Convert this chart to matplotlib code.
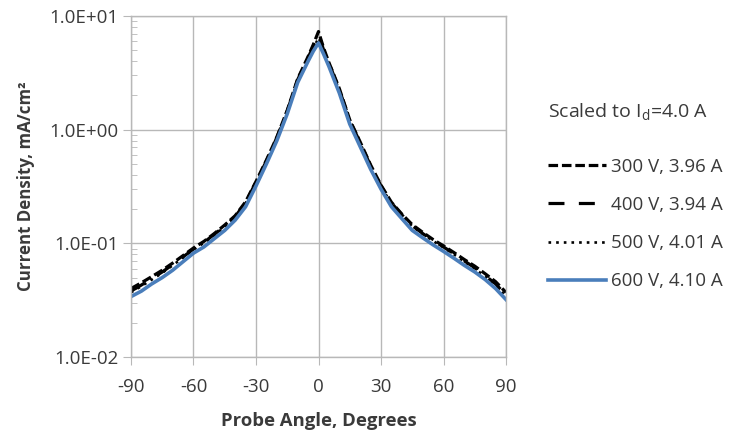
import matplotlib
matplotlib.use("Agg")
import matplotlib.pyplot as plt
from matplotlib.ticker import FixedLocator, LogLocator, NullFormatter

plt.rcParams['font.family'] = ['Open Sans', 'DejaVu Sans']

angles = [-90, -85, -80, -75, -70, -65, -60, -55, -50, -45, -40, -35, -30, -25, -20, -15, -10, -5, -2.5, 0,
          2.5, 5, 10, 15, 20, 25, 30, 35, 40, 45, 50, 55, 60, 65, 70, 75, 80, 85, 90]

v300 = [0.040, 0.045, 0.051, 0.058, 0.067, 0.078, 0.091, 0.104, 0.122, 0.145, 0.175, 0.232, 0.350, 0.54, 0.86, 1.48, 2.80, 4.40, 5.60, 7.30,
        5.20, 3.90, 2.30, 1.22, 0.78, 0.49, 0.325, 0.230, 0.181, 0.146, 0.125, 0.108, 0.095, 0.083, 0.072, 0.063, 0.054, 0.046, 0.037]
v400 = [0.038, 0.043, 0.049, 0.056, 0.065, 0.076, 0.089, 0.102, 0.120, 0.142, 0.172, 0.228, 0.345, 0.53, 0.85, 1.46, 2.75, 4.30, 5.40, 6.90,
        5.00, 3.85, 2.25, 1.20, 0.77, 0.48, 0.320, 0.227, 0.178, 0.143, 0.122, 0.106, 0.093, 0.081, 0.070, 0.061, 0.052, 0.044, 0.035]
v500 = [0.037, 0.042, 0.048, 0.055, 0.064, 0.075, 0.088, 0.101, 0.118, 0.140, 0.170, 0.225, 0.340, 0.52, 0.84, 1.44, 2.70, 4.20, 5.20, 6.40,
        4.90, 3.80, 2.22, 1.18, 0.76, 0.47, 0.315, 0.224, 0.176, 0.141, 0.121, 0.105, 0.092, 0.080, 0.069, 0.060, 0.051, 0.043, 0.034]
v600 = [0.034, 0.038, 0.044, 0.050, 0.058, 0.069, 0.082, 0.093, 0.110, 0.130, 0.160, 0.210, 0.320, 0.50, 0.80, 1.38, 2.60, 4.00, 4.90, 5.80,
        4.60, 3.60, 2.10, 1.12, 0.71, 0.45, 0.300, 0.210, 0.165, 0.130, 0.112, 0.097, 0.085, 0.074, 0.064, 0.056, 0.048, 0.040, 0.032]

labels = ["300 V, 3.96 A", "400 V, 3.94 A", "500 V, 4.01 A", "600 V, 4.10 A"]
xticks = [-90, -60, -30, 0, 30, 60, 90]
yticks = [1e-2, 1e-1, 1e0, 1e1]
ytick_labels = ["1.0E-02", "1.0E-01", "1.0E+00", "1.0E+01"]

fig = plt.figure(figsize=(7.30, 4.33), dpi=100)
ax = fig.add_axes([131/730, 1-357/433, (506-131)/730, (357-16)/433])

grid_c = '#b8b8b8'
txt_c = '#3a3a3a'

ax.plot(angles, v300, color='black', lw=2.3, linestyle=(0, (3.0, 1.2)), label=labels[0])
ax.plot(angles, v400, color='black', lw=2.3, linestyle=(0, (5.0, 4.5)), label=labels[1])
ax.plot(angles, v500, color='black', lw=1.9, linestyle=(0, (1, 1.9)), label=labels[2])
ax.plot(angles, v600, color='#4a7ebb', lw=2.6, label=labels[3])

ax.set_yscale('log')
ax.set_xlim(-90, 90)
ax.set_ylim(1e-2, 1e1)
ax.xaxis.set_major_locator(FixedLocator(xticks))
ax.set_xticklabels([str(t) for t in xticks])
ax.yaxis.set_major_locator(FixedLocator(yticks))
ax.set_yticklabels(ytick_labels)
ax.yaxis.set_minor_locator(LogLocator(base=10, subs=range(2, 10)))
ax.yaxis.set_minor_formatter(NullFormatter())

ax.grid(True, which='major', color=grid_c, lw=1.0)
for s in ax.spines.values():
    s.set_color(grid_c)
    s.set_linewidth(1.0)
ax.tick_params(axis='both', which='major', direction='out', length=6, color=grid_c,
               labelcolor=txt_c, labelsize=13.5, pad=3)
ax.tick_params(axis='y', which='minor', direction='in', length=4, color=grid_c)
ax.tick_params(axis='x', which='major', pad=9)

ax.set_xlabel("Probe Angle, Degrees", fontsize=13.3, fontweight='bold', color=txt_c, labelpad=12)
ax.set_ylabel("Current Density, mA/cm²", fontsize=12.2, fontweight='bold', color=txt_c, labelpad=10)

leg = fig.legend(loc='upper left', bbox_to_anchor=(531/730, 1-85/433), frameon=False,
                 title=r"Scaled to I$_\mathregular{d}$=4.0 A", fontsize=13.5, title_fontsize=14,
                 handlelength=3.1, handletextpad=0.27, labelspacing=1.075)
leg._legend_box.align = "left"
leg.get_title().set_color(txt_c)
leg._legend_box.sep = 25
for t in leg.get_texts():
    t.set_color(txt_c)

fig.savefig("out.png", dpi=100)
